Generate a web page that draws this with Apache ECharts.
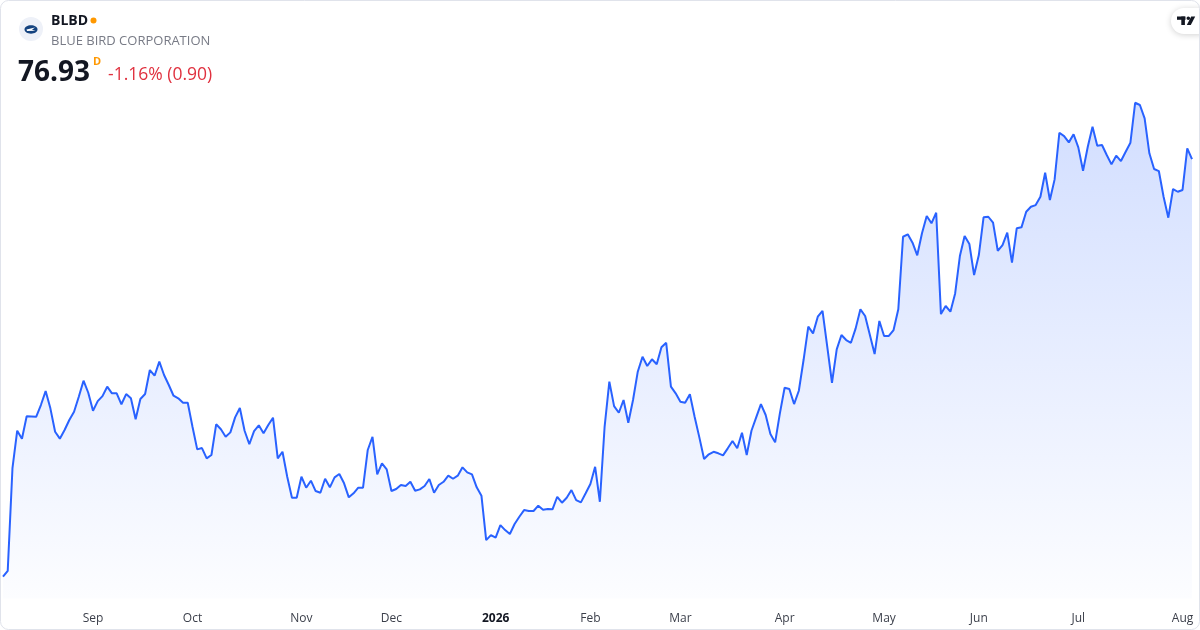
<!DOCTYPE html>
<html>
<head>
<meta charset="utf-8">
<script src="https://cdn.jsdelivr.net/npm/echarts@6/dist/echarts.min.js"></script>
<style>
html,body{margin:0;padding:0;background:#fff;}
#c{width:1200px;height:630px;}
</style>
</head>
<body>
<div id="c"></div>
<script>
// Daily closes, BLBD, Aug 5 2025 -> Aug 5 2026 (trading days)
const prices = [
41.83,42.33,50.96,54.10,53.43,55.31,55.29,55.27,56.26,57.43,
55.98,54.01,53.43,54.16,55.00,55.69,56.96,58.30,57.29,55.78,
56.59,57.01,57.80,57.24,57.24,56.32,57.18,56.82,55.06,56.76,
57.18,59.20,58.72,59.90,58.78,57.94,57.04,56.82,56.45,56.45,
54.43,52.53,52.64,51.78,52.06,54.64,54.22,53.59,53.96,55.22,
56.01,54.10,52.96,54.07,54.55,53.88,54.58,55.19,51.78,52.33,
50.23,48.47,48.47,50.23,49.31,49.90,49.03,48.89,50.06,49.34,
50.18,50.46,49.68,48.50,48.84,49.31,49.31,52.48,53.59,50.43,
51.36,50.85,49.03,49.20,49.54,49.45,49.81,49.06,49.17,49.45,
50.04,48.89,49.54,49.81,50.32,50.06,50.32,51.02,50.60,50.43,
49.34,48.64,44.91,45.33,45.11,46.17,45.75,45.42,46.26,46.87,
47.43,47.35,47.35,47.80,47.46,47.52,47.49,48.55,48.05,48.47,
49.11,48.27,48.08,48.84,49.62,51.07,48.13,54.43,58.22,56.17,
55.61,56.68,54.77,56.68,59.06,60.32,59.54,60.10,59.68,61.11,
61.49,57.80,57.24,56.54,56.45,57.16,55.27,53.54,51.72,52.12,
52.33,52.20,52.03,52.62,53.23,52.62,53.93,52.06,54.10,55.22,
56.34,55.42,53.82,53.12,55.56,57.71,57.60,56.34,57.46,60.04,
62.84,62.28,63.68,64.18,61.16,58.13,60.94,62.14,61.72,61.49,
62.70,64.30,63.74,62.14,60.54,63.32,62.06,62.06,62.56,64.30,
70.40,70.60,69.90,68.84,70.69,72.14,71.53,72.42,63.90,64.58,
64.10,65.64,68.78,70.46,69.79,67.18,68.86,72.03,72.08,71.58,
69.22,69.70,70.74,68.22,71.11,71.19,72.50,72.92,73.06,73.76,
75.78,73.48,75.22,79.14,78.86,78.33,79.01,77.91,75.95,77.96,
79.64,78.05,78.11,77.27,76.48,77.21,76.76,77.54,78.30,81.66,
81.47,80.35,77.41,76.09,75.92,73.76,72.00,74.41,74.18,74.33,
77.83,76.93
];
// Positions (trading-day index) of the first session of each month, and their labels
const tickIdx = [19, 40, 63, 82, 104, 124, 143, 165, 186, 206, 227, 249];
const tickLabels = ['Sep','Oct','Nov','Dec','2026','Feb','Mar','Apr','May','Jun','Jul','Aug'];

const ticker = 'BLBD';
const company = 'BLUE BIRD CORPORATION';
const lastPrice = '76.93';
const change = '-1.16% (0.90)';

const categories = prices.map((_, i) => String(i));

const chart = echarts.init(document.getElementById('c'), null, {renderer: 'canvas'});
const FONT = '"Open Sans", "Noto Sans", sans-serif';

chart.setOption({
  animation: false,
  backgroundColor: '#ffffff',
  grid: {left: 3, right: 8, top: 86.8, bottom: 31.5, containLabel: false},
  xAxis: {
    type: 'category',
    data: categories,
    boundaryGap: false,
    axisLine: {show: false},
    axisTick: {show: false},
    splitLine: {show: false},
    axisLabel: {
      margin: 14,
      color: '#3b3f4a',
      fontSize: 12,
      fontFamily: FONT,
      interval: (i) => tickIdx.indexOf(i) >= 0,
      formatter: (v, i) => {
        const k = tickIdx.indexOf(Number(v));
        if (k < 0) return '';
        const l = tickLabels[k];
        return /^\d{4}$/.test(l) ? '{b|' + l + '}' : l;
      },
      rich: {b: {fontWeight: 'bold', color: '#131722', fontSize: 12, fontFamily: FONT}}
    }
  },
  yAxis: {type: 'value', min: 40, max: 83, show: false, splitLine: {show: false}},
  series: [{
    type: 'line',
    data: prices,
    symbol: 'none',
    smooth: false,
    lineStyle: {color: '#2962ff', width: 2},
    areaStyle: {
      color: new echarts.graphic.LinearGradient(0, 0, 0, 1, [
        {offset: 0, color: 'rgba(41,98,255,0.30)'},
        {offset: 1, color: 'rgba(41,98,255,0.02)'}
      ])
    }
  }],
  graphic: [
    // frame
    {type: 'rect', shape: {x: 0.5, y: 0.5, width: 1199, height: 629, r: 8},
     style: {fill: 'none', stroke: '#e0e3eb', lineWidth: 1}, z: 100, silent: true},
    // logo
    {type: 'circle', shape: {cx: 31, cy: 29, r: 12}, style: {fill: '#eef1f8'}, z: 10},
    {type: 'ellipse', shape: {cx: 31, cy: 29.5, rx: 6.5, ry: 4.2}, style: {fill: '#14437f'}, z: 11},
    {type: 'polygon', shape: {points: [[26.5, 29.5], [35, 27.6], [32, 29.8], [35.5, 30.8], [27, 31]]},
     style: {fill: '#ffffff'}, z: 12},
    // texts
    {type: 'text', left: 51, top: 14,
     style: {text: ticker, font: 'bold 14px ' + FONT, fill: '#131722'}, z: 10},
    {type: 'circle', shape: {cx: 93.5, cy: 20.5, r: 3}, style: {fill: '#ff9800'}, z: 10},
    {type: 'text', left: 51, top: 35,
     style: {text: company, font: '13px ' + FONT, fill: '#787b86'}, z: 10},
    {type: 'text', left: 18, top: 59,
     style: {text: lastPrice, font: 'bold 28px ' + FONT, fill: '#131722'}, z: 10},
    {type: 'text', left: 93, top: 56,
     style: {text: 'D', font: 'bold 11px ' + FONT, fill: '#ff9800'}, z: 10},
    {type: 'text', left: 108, top: 66,
     style: {text: change, font: '17.5px ' + FONT, fill: '#e0313f'}, z: 10},
    // TradingView badge
    {type: 'rect', shape: {x: 1171, y: 8, width: 40, height: 26, r: 13},
     style: {fill: '#ffffff', shadowBlur: 6, shadowColor: 'rgba(0,0,0,0.18)', shadowOffsetY: 1}, z: 20},
    {type: 'rect', shape: {x: 1177, y: 16.5, width: 8.5, height: 3.3}, style: {fill: '#131722'}, z: 21},
    {type: 'rect', shape: {x: 1181.3, y: 16.5, width: 3.6, height: 8.5}, style: {fill: '#131722'}, z: 21},
    {type: 'circle', shape: {cx: 1188.3, cy: 18.2, r: 1.8}, style: {fill: '#131722'}, z: 21},
    {type: 'polygon', shape: {points: [[1191.2, 16.5], [1195.2, 16.5], [1190.8, 25], [1186.8, 25]]},
     style: {fill: '#131722'}, z: 21}
  ]
});
</script>
</body>
</html>
